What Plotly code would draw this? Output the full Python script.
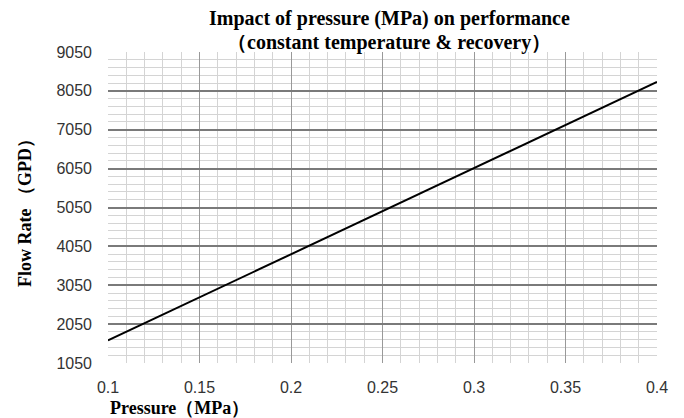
import plotly.graph_objects as go

pressure = [0.1, 0.2, 0.3, 0.4]
flow_rate = [1630, 3850, 6060, 8280]

x_ticks = [0.1, 0.15, 0.2, 0.25, 0.3, 0.35, 0.4]
x_tick_text = ["0.1", "0.15", "0.2", "0.25", "0.3", "0.35", "0.4"]
y_ticks = [1050, 2050, 3050, 4050, 5050, 6050, 7050, 8050, 9050]

title_line1 = "Impact of pressure (MPa) on performance"
title_line2 = "（constant temperature & recovery）"
x_title = "Pressure（MPa）"
y_title = "Flow Rate （GPD）"

fig = go.Figure()
fig.add_trace(go.Scatter(x=pressure, y=flow_rate, mode="lines",
                         line=dict(color="black", width=2), showlegend=False,
                         cliponaxis=False))

serif = "Liberation Serif, Times New Roman, serif"
sans = "Liberation Sans, Arial, sans-serif"

fig.update_layout(
    width=684, height=418,
    margin=dict(l=108, r=27, t=52, b=55),
    paper_bgcolor="white", plot_bgcolor="white",
    xaxis=dict(range=[0.1, 0.4], tickvals=x_ticks, ticktext=x_tick_text,
               showgrid=True, gridcolor="#999999", gridwidth=1,
               minor=dict(dtick=0.01, tick0=0.1, showgrid=True, gridcolor="#d4d4d4", gridwidth=1),
               zeroline=False, showline=False, ticks="",
               tickfont=dict(family=sans, size=16, color="#333"),
               ticklabelstandoff=13),
    yaxis=dict(range=[1050, 9050], tickvals=y_ticks,
               showgrid=True, gridcolor="#7a7a7a", gridwidth=1.5,
               minor=dict(dtick=200, tick0=1050, showgrid=True, gridcolor="#d4d4d4", gridwidth=1),
               zeroline=False, showline=False, ticks="",
               tickfont=dict(family=sans, size=16, color="#333"),
               ticklabelstandoff=15),
    annotations=[
        dict(text="<b>" + title_line1 + "</b>", x=0.5, y=1.0, xref="paper", yref="paper",
             showarrow=False, yanchor="middle", yshift=34,
             font=dict(family=serif, size=20, color="black")),
        dict(text="<b>" + title_line2 + "</b>", x=0.5, y=1.0, xref="paper", yref="paper",
             yanchor="middle", yshift=10, showarrow=False,
             font=dict(family=serif, size=20, color="black")),
        dict(text="<b>" + x_title + "</b>", x=0, y=0, xref="paper", yref="paper",
             xanchor="left", yanchor="middle", yshift=-45, showarrow=False,
             font=dict(family=serif, size=18, color="black")),
        dict(text="<b>" + y_title + "</b>", x=0, y=0.495, xref="paper", yref="paper",
             xanchor="center", yanchor="middle", xshift=-83, textangle=-90, showarrow=False,
             font=dict(family=serif, size=18, color="black")),
    ],
)
# title centre sits at about x = 389 px
plot_w = 684 - 108 - 27
fig.layout.annotations[0].x = (389 - 108) / plot_w
fig.layout.annotations[1].x = (389 - 108) / plot_w

fig.write_html("out.html", config={"displayModeBar": False},
               post_script="document.body.style.margin='0';")
